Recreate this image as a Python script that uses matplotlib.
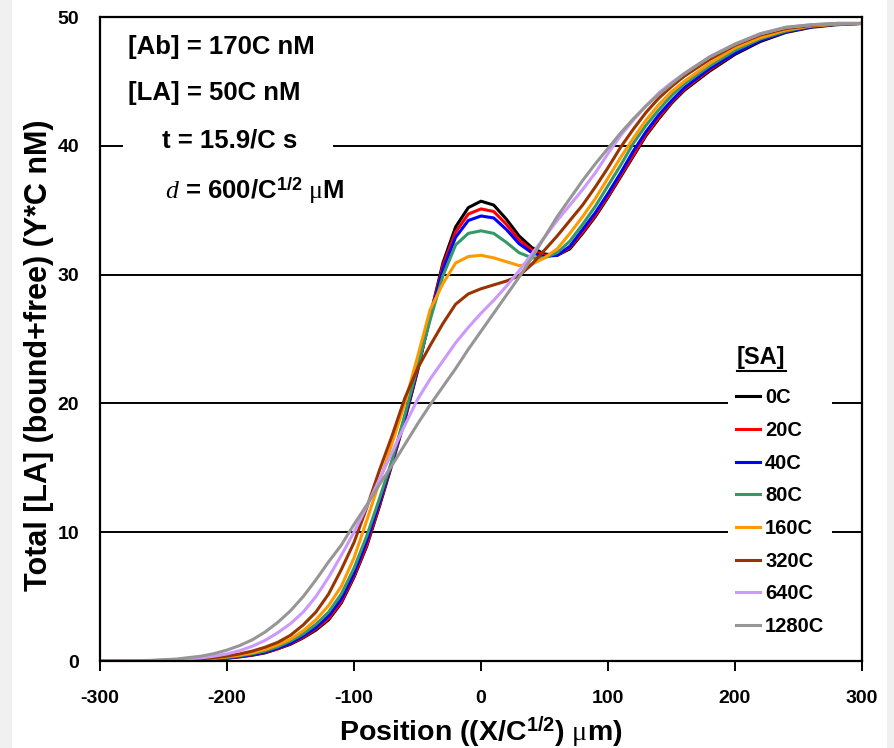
import matplotlib
matplotlib.use('Agg')
import matplotlib.pyplot as plt
from matplotlib.patches import Rectangle
from matplotlib.lines import Line2D

plt.rcParams['font.family'] = ['Liberation Sans', 'DejaVu Sans']
plt.rcParams['font.weight'] = 'bold'
plt.rcParams['axes.unicode_minus'] = False
plt.rcParams['mathtext.fontset'] = 'custom'
plt.rcParams['mathtext.rm'] = 'Liberation Serif:weight=normal'
plt.rcParams['mathtext.it'] = 'Liberation Serif:italic:weight=normal'
plt.rcParams['mathtext.bf'] = 'Liberation Sans:bold'

# 위치 (X/C^1/2, um)
pos = [-300, -280, -260, -240, -220, -210, -200, -190, -180, -170, -160, -150, -140, -130, -120, -110,
       -100, -90, -80, -70, -60, -50, -40, -30, -20, -10, 0, 10, 20, 30, 40, 50, 60,
       70, 80, 90, 100, 110, 120, 130, 140, 150, 160,
       180, 200, 220, 240, 260, 280, 300]

# [SA] 농도별 Total [LA] (bound+free)
sa_0 = [0, 0, 0.01, 0.04, 0.1, 0.15, 0.22, 0.32, 0.45, 0.63, 0.95, 1.3, 1.8, 2.4, 3.2, 4.5,
        6.5, 8.9, 12.0, 15.3, 18.7, 22.5, 26.8, 30.9, 33.7, 35.2, 35.7, 35.4, 34.3, 33.0, 32.1, 31.6, 31.5,
        32.0, 33.2, 34.5, 36.0, 37.6, 39.2, 40.8, 42.1, 43.3, 44.3,
        45.8, 47.1, 48.1, 48.8, 49.2, 49.4, 49.5]
sa_20 = [0, 0, 0.01, 0.04, 0.1, 0.16, 0.23, 0.34, 0.48, 0.67, 0.95, 1.35, 1.85, 2.5, 3.3, 4.6,
         6.6, 9.0, 12.1, 15.4, 18.8, 22.6, 26.8, 30.7, 33.3, 34.7, 35.1, 34.9, 33.9, 32.7, 31.9, 31.5, 31.5,
         32.1, 33.3, 34.6, 36.1, 37.7, 39.3, 40.9, 42.2, 43.4, 44.4,
         45.9, 47.2, 48.2, 48.85, 49.25, 49.45, 49.5]
sa_40 = [0, 0, 0.01, 0.05, 0.11, 0.17, 0.25, 0.36, 0.5, 0.7, 1.0, 1.4, 1.95, 2.6, 3.5, 4.8,
         6.8, 9.3, 12.3, 15.5, 18.9, 22.7, 26.7, 30.4, 32.9, 34.2, 34.55, 34.4, 33.5, 32.4, 31.7, 31.4, 31.5,
         32.2, 33.5, 34.8, 36.3, 37.9, 39.6, 41.1, 42.4, 43.5, 44.5,
         46.0, 47.2, 48.2, 48.85, 49.25, 49.45, 49.5]
sa_80 = [0, 0, 0.01, 0.05, 0.12, 0.19, 0.28, 0.4, 0.56, 0.78, 1.1, 1.55, 2.1, 2.85, 3.8, 5.2,
         7.2, 9.7, 12.6, 15.6, 19.1, 22.8, 26.5, 29.9, 32.3, 33.2, 33.4, 33.2, 32.5, 31.7, 31.3, 31.3, 31.7,
         32.6, 33.9, 35.3, 36.9, 38.5, 40.2, 41.6, 42.8, 43.9, 44.8,
         46.2, 47.4, 48.3, 48.9, 49.3, 49.45, 49.5]
sa_160 = [0, 0, 0.02, 0.06, 0.14, 0.22, 0.32, 0.46, 0.64, 0.9, 1.25, 1.7, 2.35, 3.2, 4.3, 5.8,
          8.0, 10.9, 13.9, 16.9, 20.0, 23.6, 27.3, 29.3, 30.9, 31.4, 31.5, 31.3, 31.0, 30.7, 30.8, 31.3, 32.0,
          33.2, 34.5, 35.9, 37.5, 39.1, 40.6, 42.0, 43.2, 44.2, 45.0,
          46.4, 47.6, 48.4, 49.0, 49.3, 49.45, 49.5]
sa_320 = [0, 0, 0.02, 0.07, 0.17, 0.26, 0.38, 0.55, 0.77, 1.07, 1.45, 2.0, 2.8, 3.8, 5.2, 7.1,
          9.2, 11.9, 14.8, 17.5, 20.4, 22.7, 24.5, 26.2, 27.7, 28.5, 28.9, 29.2, 29.5, 29.9, 30.8, 31.9, 33.0,
          34.2, 35.4, 36.8, 38.3, 39.9, 41.3, 42.6, 43.7, 44.6, 45.4,
          46.7, 47.8, 48.6, 49.1, 49.35, 49.5, 49.5]
sa_640 = [0, 0.01, 0.03, 0.1, 0.25, 0.38, 0.55, 0.8, 1.15, 1.6, 2.2, 2.9, 3.8, 5.0, 6.5, 8.2,
          10.0, 12.0, 14.1, 16.2, 18.3, 20.3, 21.9, 23.3, 24.7, 25.9, 27.0, 28.0, 29.1, 30.3, 31.6, 32.9, 34.2,
          35.4, 36.6, 37.9, 39.4, 40.8, 42.0, 43.1, 44.1, 44.9, 45.6,
          46.9, 47.9, 48.7, 49.2, 49.4, 49.5, 49.5]
sa_1280 = [0, 0.01, 0.05, 0.15, 0.38, 0.58, 0.85, 1.2, 1.65, 2.25, 3.0, 3.9, 5.0, 6.3, 7.7, 9.0,
           10.6, 12.1, 13.7, 15.2, 16.8, 18.4, 19.9, 21.3, 22.7, 24.2, 25.6, 27.0, 28.4, 29.8, 31.3, 32.9, 34.5,
           35.9, 37.3, 38.6, 39.8, 41.0, 42.1, 43.1, 44.0, 44.8, 45.6,
           46.9, 47.9, 48.7, 49.2, 49.4, 49.5, 49.5]

labels = ['0C', '20C', '40C', '80C', '160C', '320C', '640C', '1280C']
colors = ['#000000', '#ff0000', '#0000ff', '#339966', '#ff9900', '#993300', '#cc99ff', '#969696']
series = [sa_0, sa_20, sa_40, sa_80, sa_160, sa_320, sa_640, sa_1280]

fig = plt.figure(figsize=(8.95, 7.48), dpi=100, facecolor='#f0f0f0')
fig.add_artist(Rectangle((12 / 895, 0), 875 / 895, 1, transform=fig.transFigure,
                         facecolor='white', edgecolor='none', zorder=0))
ax = fig.add_axes([100 / 895, 1 - 661 / 748, 762 / 895, 644 / 748])

for vals, lab, c in zip(series, labels, colors):
    ax.plot(pos, vals, color=c, lw=2.2, label=lab)

ax.set_xlim(-300, 300)
ax.set_ylim(0, 50)
ax.set_xticks(range(-300, 301, 100))
ax.set_yticks(range(0, 51, 10))
ax.yaxis.grid(True, color='black', lw=1.4)
ax.tick_params(axis='x', direction='out', length=7, width=1.4, pad=14, labelsize=14)
ax.tick_params(axis='y', length=0, pad=15, labelsize=14)
for s in ax.spines.values():
    s.set_linewidth(1.6)
    s.set_color('black')

ax.set_xlabel('Position ((X/C$^{\\mathbf{1/2}}$) $\\mathrm{μ}$m)', fontsize=20.5, fontweight='bold')
ax.xaxis.set_label_coords(0.5, -0.083)
ax.set_ylabel('Total [LA] (bound+free) (Y*C nM)', fontsize=22, fontweight='bold')
ax.yaxis.set_label_coords(-0.06, 0.475)

# 좌상단 조건 텍스트 (흰 배경으로 격자선 가림)
ax.add_patch(Rectangle((0.030, 0.70), 0.276, 0.29, transform=ax.transAxes,
                       facecolor='white', edgecolor='none', zorder=1.8))
ax.text(0.0367, 0.953, '[Ab] = 170C nM', transform=ax.transAxes, fontsize=18.5, va='center')
ax.text(0.0367, 0.882, '[LA] = 50C nM', transform=ax.transAxes, fontsize=18.5, va='center')
ax.text(0.081, 0.809, 't = 15.9/C s', transform=ax.transAxes, fontsize=18.5, va='center')
ax.text(0.085, 0.731, '$d$ = 600/C$^{\\mathbf{1/2}}$ $\\mathrm{μ}$M', transform=ax.transAxes,
        fontsize=18.5, va='center')

# 범례
ax.legend(loc='upper left', bbox_to_anchor=(0.824, 0.436), borderaxespad=0,
          frameon=True, facecolor='white', edgecolor='none', framealpha=1, fancybox=False,
          prop={'weight': 'bold', 'size': 14.5}, handlelength=1.2, handletextpad=0.25,
          labelspacing=0.68, borderpad=0.4)

# 범례 제목 [SA] + 밑줄
title = ax.text(0.836, 0.472, '[SA]', transform=ax.transAxes, fontsize=17, va='center')
fig.canvas.draw()
bb = title.get_window_extent().transformed(fig.transFigure.inverted())
uy = 1 - 371 / 748
fig.add_artist(Line2D([bb.x0, bb.x1], [uy, uy], transform=fig.transFigure, color='black', lw=1.5))

plt.savefig('out.png', dpi=100, facecolor=fig.get_facecolor())
